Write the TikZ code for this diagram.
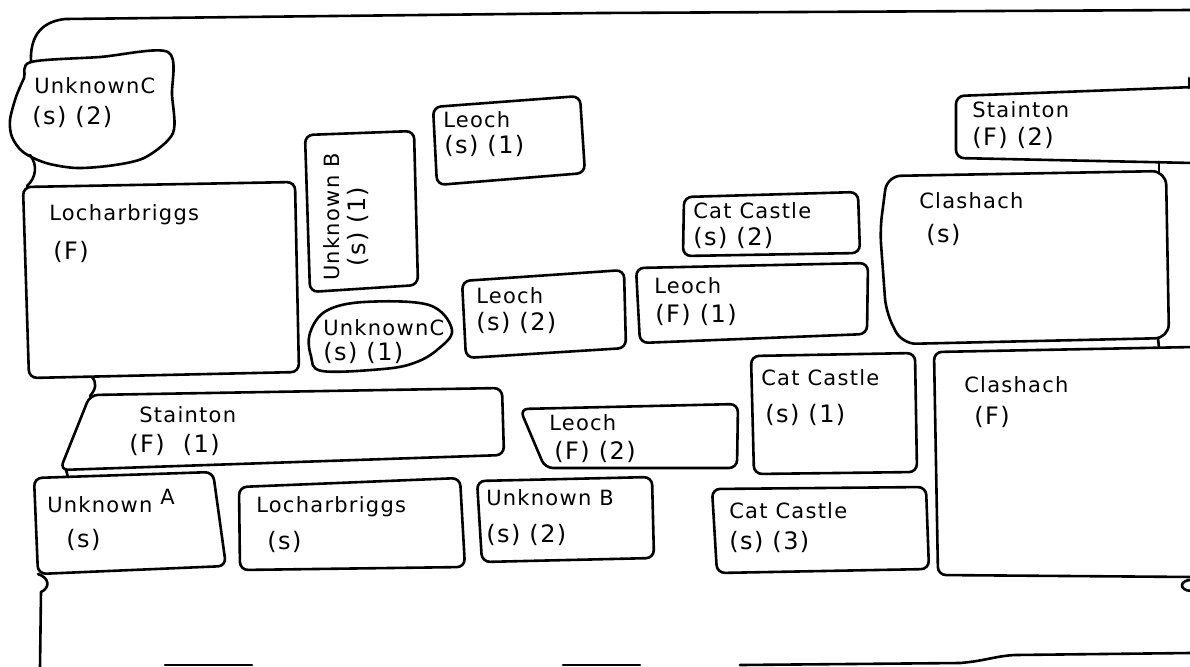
\documentclass[tikz,border=0pt]{standalone}
\usepackage{fontspec}
\setmainfont{DejaVu Sans}[LetterSpace=6]
\begin{document}
\begin{tikzpicture}[x=0.5pt,y=-0.5pt, line width=1.3pt, line join=round, line cap=round,
 stone/.style={draw, rounded corners=4pt},
 lbl/.style={anchor=base west, inner sep=0pt, font=\fontsize{10.5}{12}\selectfont},
 par/.style={anchor=base west, inner sep=0pt, font=\fontsize{12}{14}\selectfont}]
\useasboundingbox (0,0) rectangle (1190,666);
% outer border
\draw (31,62) .. controls (30,40) and (38,22) .. (65,19) -- (600,13) -- (1190,10);
% UnknownC (s)(2)
\draw plot[smooth cycle, tension=0.5] coordinates {(31,62) (100,57) (168,52) (172,95) (173,133) (146,157) (115,165) (77,168) (46,163) (23,152) (12,137) (10,120) (16,97) (24,78)};
\draw (30,155) .. controls (38,165) and (36,178) .. (27,186);
% Locharbriggs (F)
\draw[stone] (23,187) -- (295,182) -- (299,372) -- (29,378) -- cycle;
\draw (92,377) .. controls (97,383) and (96,389) .. (90,396);
% Stainton (F)(1)
\draw[stone] (90,395) -- (502,388) -- (504,455) -- (60,470) -- cycle;
\draw (66,470) -- (68,477);
% Unknown A
\draw[stone] (34,478) -- (213,472) -- (226,566) -- (38,574) -- cycle;
\draw (38,574) .. controls (50,578) and (50,588) .. (41,592) -- (40,668);
% Locharbriggs (s)
\draw[stone] (239,487) -- (460,478) -- (465,567) -- (240,570) -- cycle;
% Unknown B (s)(2)
\draw[stone] (477,481) -- (652,477) -- (654,558) -- (482,562) -- cycle;
% Leoch (F)(2)
\draw[stone] (520,409) -- (738,404) -- (737,468) -- (545,468) -- cycle;
% Cat Castle (s)(3)
\draw[stone] (712,489) -- (926,487) -- (929,569) -- (717,573) -- cycle;
% Cat Castle (s)(1)
\draw[stone] (751,356) -- (915,353) -- (917,472) -- (754,474) -- cycle;
% Clashach (F)
\draw[stone] (1194,347) -- (934,352) -- (938,575) -- (1194,577);
\draw (1191,580) .. controls (1180,580) and (1178,590) .. (1191,591);
\draw (1158,338) -- (1159,348);
% Clashach (s)
\draw[rounded corners=7pt] (887,176) -- (1166,171) -- (1169,338) -- (902,344) -- (886,312) -- (880,230) -- cycle;
\draw (1159,162) -- (1159,172);
% Stainton (F)(2)
\draw[stone] (1194,87) -- (956,96) -- (956,158) -- (1194,163);
\draw (1189,78) -- (1189,88);
% Cat Castle (s)(2)
\draw[stone] (684,197) -- (858,192) -- (860,253) -- (683,256) -- cycle;
% Leoch (F)(1)
\draw[stone] (636,268) -- (868,263) -- (867,334) -- (640,343) -- cycle;
% Leoch (s)(2)
\draw[stone] (462,281) -- (624,270) -- (626,348) -- (466,358) -- cycle;
% UnknownC (s)(1)
\draw plot[smooth cycle, tension=0.6] coordinates {(310,333) (326,311) (364,302) (429,305) (452,330) (437,350) (414,363) (383,369) (322,371) (311,356)};
% Unknown B (s)(1)
\draw[stone] (305,135) -- (414,131) -- (418,285) -- (310,292) -- cycle;
% Leoch (s)(1)
\draw[stone] (433,107) -- (580,96) -- (585,173) -- (437,185) -- cycle;
% bottom
\draw (165,665) -- (252,665);
\draw (563,665) -- (640,665);
\draw (740,665) -- (960,663) .. controls (985,661) and (995,656) .. (1015,655) -- (1190,653);
% labels
\node[lbl] (t1a) at (33,93) {UnknownC};
\node[par] (t1b) at (31,124) {(s) (2)};
\node[lbl] (t2a) at (442,127) {Leoch};
\node[par] (t2b) at (443,153) {(s) (1)};
\node[lbl, rotate=90] (t3a) at (339,282) {Unknown B};
\node[par, rotate=90] (t3b) at (365,268) {(s) (1)};
\node[lbl] (t4a) at (48,220) {Locharbriggs};
\node[par] (t4b) at (52,259) {(F)};
\node[lbl] (t5a) at (971,117) {Stainton};
\node[par] (t5b) at (971,145) {(F) (2)};
\node[lbl] (t6a) at (692,218) {Cat Castle};
\node[par] (t6b) at (692,245) {(s) (2)};
\node[lbl] (t7a) at (918,208) {Clashach};
\node[par] (t7b) at (925,242) {(s)};
\node[lbl] (t8a) at (653,293) {Leoch};
\node[par] (t8b) at (654,322) {(F) (1)};
\node[lbl] (t9a) at (475,303) {Leoch};
\node[par] (t9b) at (475,330) {(s) (2)};
\node[lbl] (t10a) at (322,335) {UnknownC};
\node[par] (t10b) at (322,360) {(s) (1)};
\node[lbl] (t11a) at (138,422) {Stainton};
\node[par] (t11b) at (128,452) {(F)\ \ (1)};
\node[lbl] (t12a) at (548,430) {Leoch};
\node[par] (t12b) at (553,459) {(F) (2)};
\node[lbl] (t13a) at (760,385) {Cat Castle};
\node[par] (t13b) at (764,422) {(s) (1)};
\node[lbl] (t14a) at (963,392) {Clashach};
\node[par] (t14b) at (973,424) {(F)};
\node[lbl] (t15a) at (46,512) {Unknown \raisebox{4pt}{A}};
\node[par] (t15b) at (65,547) {(s)};
\node[lbl] (t16a) at (255,512) {Locharbriggs};
\node[par] (t16b) at (266,549) {(s)};
\node[lbl] (t17a) at (485,505) {Unknown B};
\node[par] (t17b) at (485,542) {(s) (2)};
\node[lbl] (t18a) at (728,518) {Cat Castle};
\node[par] (t18b) at (728,549) {(s) (3)};
\end{tikzpicture}
\end{document}
